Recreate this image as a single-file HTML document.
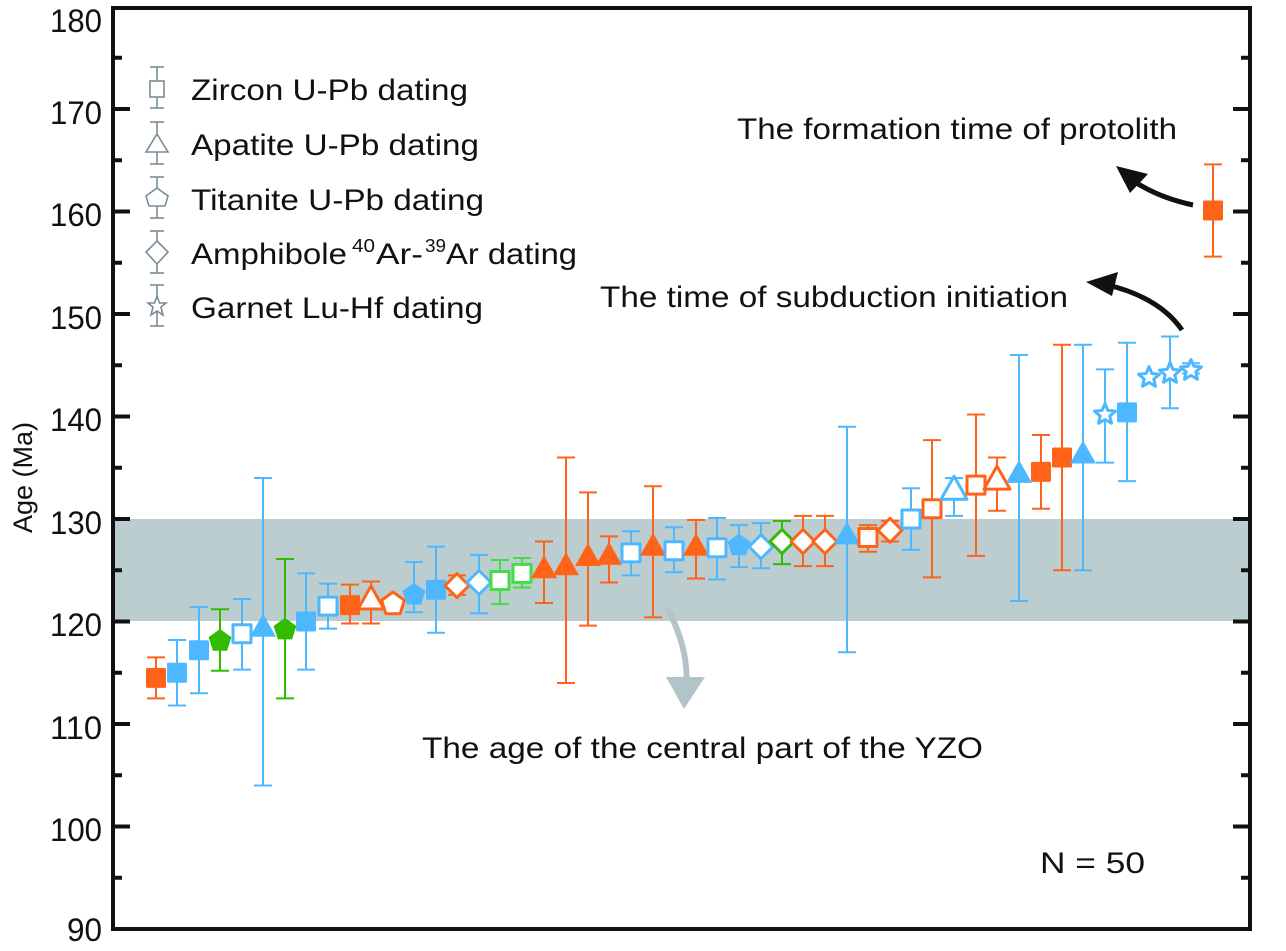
<!DOCTYPE html>
<html><head><meta charset="utf-8"><style>
html,body{margin:0;padding:0;background:#fff;}
body{position:relative;width:1286px;height:951px;overflow:hidden;}
svg{display:block;font-family:"Liberation Sans",Arial,sans-serif;}
#yl{position:absolute;left:-22px;top:472px;width:90px;height:32px;line-height:32px;text-align:center;font-family:"Liberation Sans",Arial,sans-serif;font-size:27px;color:#111;transform:rotate(-90deg);white-space:nowrap;}
</style></head><body>
<svg id="s" width="1286" height="951" viewBox="0 0 1286 951" xmlns="http://www.w3.org/2000/svg">
<rect x="0" y="0" width="1286" height="951" fill="#fff"/>
<rect x="113" y="519" width="1137" height="102" fill="#bccdd0"/>
<g id="data"></g>
<rect x="113" y="8" width="1137" height="921" fill="none" stroke="#111" stroke-width="4"/>
<g id="ticks" stroke="#111"></g>
<g font-size="32" fill="#111" text-anchor="end">
<text x="102" y="32" textLength="52" lengthAdjust="spacingAndGlyphs">180</text>
<text x="102" y="124" textLength="52" lengthAdjust="spacingAndGlyphs">170</text>
<text x="102" y="226" textLength="52" lengthAdjust="spacingAndGlyphs">160</text>
<text x="102" y="329" textLength="52" lengthAdjust="spacingAndGlyphs">150</text>
<text x="102" y="431" textLength="52" lengthAdjust="spacingAndGlyphs">140</text>
<text x="102" y="534" textLength="52" lengthAdjust="spacingAndGlyphs">130</text>
<text x="102" y="636" textLength="52" lengthAdjust="spacingAndGlyphs">120</text>
<text x="102" y="739" textLength="52" lengthAdjust="spacingAndGlyphs">110</text>
<text x="102" y="841" textLength="52" lengthAdjust="spacingAndGlyphs">100</text>
<text x="102" y="941" textLength="35" lengthAdjust="spacingAndGlyphs">90</text>
</g>
<g stroke="#7b8c96" stroke-width="1.6" fill="none">
<line x1="157" y1="67" x2="157" y2="108"/><line x1="150" y1="67" x2="164" y2="67"/><line x1="150" y1="108" x2="164" y2="108"/>
<rect x="150" y="81" width="14" height="16" fill="#fff"/>
<line x1="157" y1="122" x2="157" y2="164"/><line x1="150" y1="122" x2="164" y2="122"/><line x1="150" y1="164" x2="164" y2="164"/>
<polygon points="157,134 168,152 146,152" fill="#fff"/>
<line x1="157" y1="177" x2="157" y2="218"/><line x1="150" y1="177" x2="164" y2="177"/><line x1="150" y1="218" x2="164" y2="218"/>
<polygon points="157,188 168,196 165,206 149,206 146,196" fill="#fff"/>
<line x1="157" y1="231" x2="157" y2="273"/><line x1="150" y1="231" x2="164" y2="231"/><line x1="150" y1="273" x2="164" y2="273"/>
<polygon points="157,241 168,252 157,264 146,252" fill="#fff"/>
<line x1="157" y1="285" x2="157" y2="326"/><line x1="150" y1="285" x2="164" y2="285"/><line x1="150" y1="326" x2="164" y2="326"/>
<polygon points="157,296 159.5,303 166,303 161,307 163,315 157,311 151,315 153,307 148,303 154.5,303" fill="#fff"/>
</g>
<g font-size="30" fill="#111">
<text x="191" y="100" textLength="277" lengthAdjust="spacingAndGlyphs">Zircon U-Pb dating</text>
<text x="191" y="155" textLength="288" lengthAdjust="spacingAndGlyphs">Apatite U-Pb dating</text>
<text x="191" y="210" textLength="293" lengthAdjust="spacingAndGlyphs">Titanite U-Pb dating</text>
<text x="191" y="264" textLength="156" lengthAdjust="spacingAndGlyphs">Amphibole</text>
<text x="352" y="252" font-size="18" textLength="23" lengthAdjust="spacingAndGlyphs">40</text>
<text x="376" y="264" textLength="47" lengthAdjust="spacingAndGlyphs">Ar-</text>
<text x="425" y="252" font-size="18" textLength="21" lengthAdjust="spacingAndGlyphs">39</text>
<text x="446" y="264" textLength="131" lengthAdjust="spacingAndGlyphs">Ar dating</text>
<text x="191" y="318" textLength="292" lengthAdjust="spacingAndGlyphs">Garnet Lu-Hf dating</text>
</g>
<g font-size="30" fill="#111">
<text x="737" y="139" textLength="440" lengthAdjust="spacingAndGlyphs">The formation time of protolith</text>
<text x="600" y="307" textLength="468" lengthAdjust="spacingAndGlyphs">The time of subduction initiation</text>
<text x="422" y="758" textLength="561" lengthAdjust="spacingAndGlyphs">The age of the central part of the YZO</text>
<text x="1040" y="873" textLength="105" lengthAdjust="spacingAndGlyphs">N = 50</text>
</g>
<path d="M1193,205 Q1160,198 1135,182" fill="none" stroke="#111" stroke-width="5"/>
<polygon points="1116,166 1148,174 1130,193" fill="#111"/>
<path d="M1182,330 Q1160,298 1108,285" fill="none" stroke="#111" stroke-width="5"/>
<polygon points="1086,282 1118,272 1112,296" fill="#111"/>
<path d="M667,608 Q690,650 686,690" fill="none" stroke="#b3c4c8" stroke-width="6"/>
<polygon points="684,709 666,677 705,677" fill="#b3c4c8"/>
<script>
(function(){
var NS="http://www.w3.org/2000/svg";
function Y(a){return 929-(a-90)*10.25;}
var O="#ff6319",B="#4db8ff",G="#33bb00",GL="#44dd44";
var d=[
[156,114.5,'s',O,1,112.5,116.5],[177,115,'s',B,1,111.8,118.2],[199,117.2,'s',B,1,113,121.4],
[220,118.2,'p',G,1,115.2,121.2],[242,118.8,'s',B,0,115.3,122.2],[263,119.3,'t',B,1,104,134],
[285,119.3,'p',G,1,112.5,126.1],[306,120,'s',B,1,115.3,124.7],[328,121.5,'s',B,0,119.3,123.7],
[350,121.6,'s',O,1,119.8,123.6],[371,122,'t',O,0,119.8,123.9],[393,121.8,'p',O,0,null,null],
[414,122.7,'p',B,1,120.9,125.8],[436,123.1,'s',B,1,118.9,127.3],[457,123.5,'d',O,0,122.6,124.5],
[479,123.8,'d',B,0,120.8,126.5],[500,124,'s',GL,0,121.7,126],[522,124.7,'s',GL,0,123.3,126.2],
[544,125,'t',O,1,121.8,127.8],[566,125.3,'t',O,1,114,136],[588,126.2,'t',O,1,119.6,132.6],
[609,126.3,'t',O,1,123.8,128.3],[631,126.7,'s',B,0,124.5,128.8],[653,127.2,'t',O,1,120.4,133.2],
[674,126.9,'s',B,0,124.8,129.2],[696,127.2,'t',O,1,124.2,129.9],[717,127.2,'s',B,0,124.1,130.1],
[739,127.5,'p',B,1,125.3,129.4],[761,127.3,'d',B,0,125.2,129.6],[782,127.8,'d',G,0,125.6,129.8],
[803,127.8,'d',O,0,125.4,130.3],[825,127.8,'d',O,0,125.4,130.3],[847,128.3,'t',B,1,117,139],
[868,128.2,'s',O,0,126.8,129.4],[890,128.9,'d',O,0,127.8,129.8],[911,130,'s',B,0,127,133],
[932,131,'s',O,0,124.3,137.7],[954,132.7,'t',B,0,130.3,134],[976,133.3,'s',O,0,126.4,140.2],
[997,133.7,'t',O,0,130.8,136],[1019,134.3,'t',B,1,122,146],[1041,134.6,'s',O,1,131,138.2],
[1062,136,'s',O,1,125,147],[1083,136.2,'t',B,1,125,147],[1105,140.2,'r',B,0,135.5,144.6],
[1127,140.4,'s',B,1,133.7,147.2],[1149,143.8,'r',B,0,null,null],[1170,144.2,'r',B,0,140.8,147.8],
[1191,144.5,'r',B,0,144.2,145.2],[1213,160.1,'s',O,1,155.6,164.6]];
var g=document.getElementById('data');
function el(n,a){var e=document.createElementNS(NS,n);for(var k in a)e.setAttribute(k,a[k]);g.appendChild(e);return e;}
d.forEach(function(p){
 var x=p[0],y=Y(p[1]),c=p[3];
 if(p[5]!=null){var y1=Y(p[5]),y2=Y(p[6]);
  el('line',{x1:x,y1:y1,x2:x,y2:y2,stroke:c,'stroke-width':2});
  el('line',{x1:x-9,y1:y1,x2:x+9,y2:y1,stroke:c,'stroke-width':2});
  el('line',{x1:x-9,y1:y2,x2:x+9,y2:y2,stroke:c,'stroke-width':2});}
 var f=p[4]?c:'#fff',sw=p[4]?0:3,a={fill:f,stroke:c,'stroke-width':sw,'stroke-linejoin':'round'};
 var s=p[2],pts;
 if(s=='s'){var h=p[4]?10:9;a.x=x-h;a.y=y-h;a.width=2*h;a.height=2*h;if(p[4]){a.rx=1.5;}el('rect',a);return;}
 if(s=='t'){pts=[[x,y-15],[x+13,y+8],[x-13,y+8]];}
 else if(s=='p'){var r=12;pts=[];for(var i=0;i<5;i++){var t=-Math.PI/2+i*2*Math.PI/5;pts.push([x+r*Math.cos(t),y+r*Math.sin(t)+1]);}}
 else if(s=='d'){pts=[[x,y-12],[x+12,y],[x,y+12],[x-12,y]];}
 else if(s=='r'){pts=[];for(var i=0;i<10;i++){var t=-Math.PI/2+i*Math.PI/5,r=i%2?5:11;pts.push([x+r*Math.cos(t),y+r*Math.sin(t)]);}}
 a.points=pts.map(function(q){return q[0].toFixed(1)+','+q[1].toFixed(1);}).join(' ');
 el('polygon',a);
});
var tg=document.getElementById('ticks');
for(var a=90;a<=180;a+=5){var y=Y(a),L=(a%10==0)?17:9;
 if(a==90||a==180)continue;
 var l=document.createElementNS(NS,'line');l.setAttribute('x1',113);l.setAttribute('x2',113+L);l.setAttribute('y1',y);l.setAttribute('y2',y);l.setAttribute('stroke-width',4);tg.appendChild(l);
 var r=document.createElementNS(NS,'line');r.setAttribute('x1',1250);r.setAttribute('x2',1250-L);r.setAttribute('y1',y);r.setAttribute('y2',y);r.setAttribute('stroke-width',4);tg.appendChild(r);}
})();
</script>
</svg>
<div id="yl">Age (Ma)</div>
</body></html>
